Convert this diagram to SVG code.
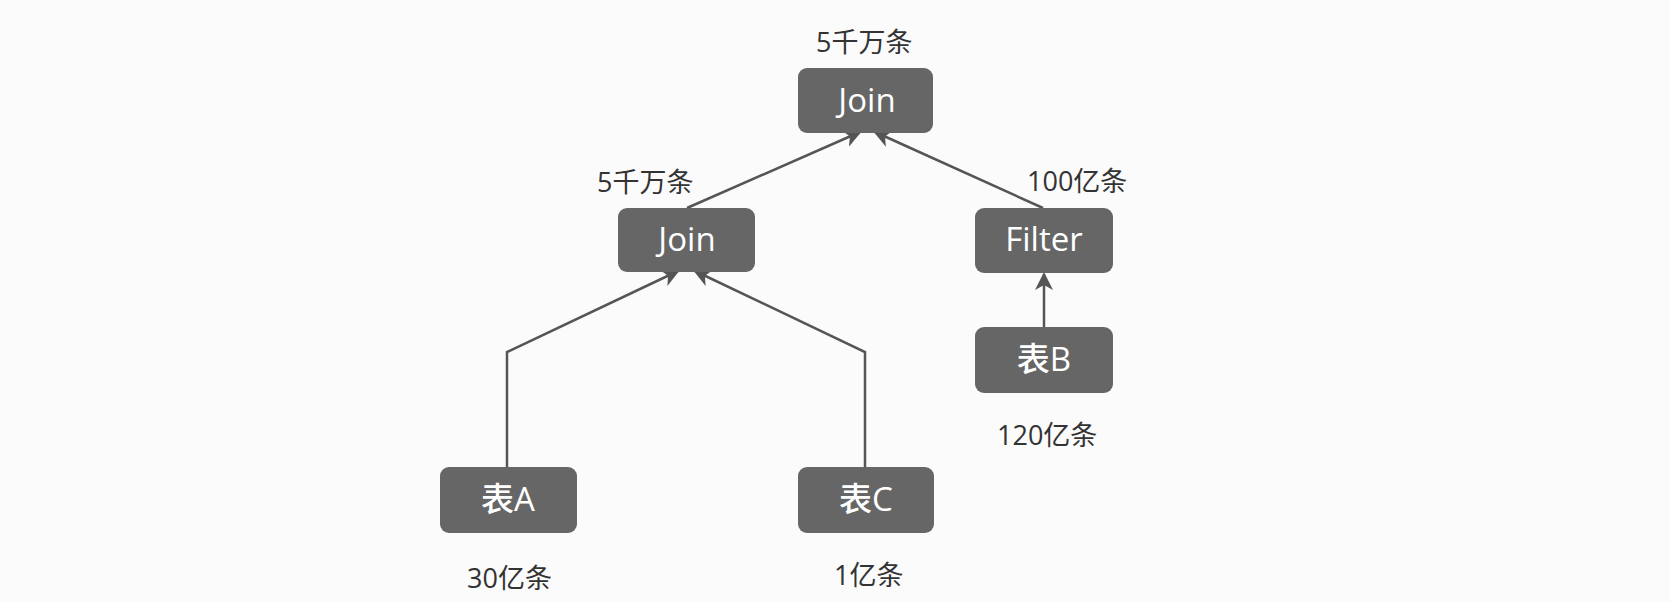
<svg xmlns="http://www.w3.org/2000/svg" width="1670" height="602" viewBox="0 0 1670 602">
<style>
.box{fill:#666666;}
.nl{fill:#ffffff;font-family:"Open Sans","Noto Sans CJK SC",sans-serif;font-size:33px;font-weight:500;text-anchor:middle;}
.cnt{fill:#333333;font-family:"Open Sans","Noto Sans CJK SC",sans-serif;font-size:27px;}
.edge{stroke:#555555;stroke-width:2.5;fill:none;}
</style>
<defs>
<marker id="arr" viewBox="0 0 18 18" refX="16" refY="9" markerWidth="18" markerHeight="18" markerUnits="userSpaceOnUse" orient="auto">
<path d="M0,0 L18,9 L0,18 L5,9 Z" fill="#555555"/>
</marker>
</defs>
<rect width="1670" height="602" fill="#fbfbfb"/>
<g id="connectors">
<path class="edge" d="M687,208 L860,132" marker-end="url(#arr)"/>
<path class="edge" d="M1043,208 L875,132" marker-end="url(#arr)"/>
<path class="edge" d="M507,467 L507,352 L678,271" marker-end="url(#arr)"/>
<path class="edge" d="M865,467 L865,352 L695,271" marker-end="url(#arr)"/>
<path class="edge" d="M1044,327 L1044,274" marker-end="url(#arr)"/>
</g>
<g id="join-top">
<rect class="box" x="798" y="68" width="135" height="65" rx="9"/>
<text class="nl" x="867" y="112">Join</text>
<text class="cnt" x="816" y="52">5千万条</text>
</g>
<g id="join-left">
<rect class="box" x="618" y="208" width="137" height="64" rx="9"/>
<text class="nl" x="687" y="251">Join</text>
<text class="cnt" x="597" y="192">5千万条</text>
</g>
<g id="filter">
<rect class="box" x="975" y="208" width="138" height="65" rx="9"/>
<text class="nl" x="1044" y="251">Filter</text>
<text class="cnt" x="1027" y="191">100亿条</text>
</g>
<g id="table-b">
<rect class="box" x="975" y="327" width="138" height="66" rx="9"/>
<text class="nl" x="1044" y="371">表B</text>
<text class="cnt" x="997" y="445">120亿条</text>
</g>
<g id="table-a">
<rect class="box" x="440" y="467" width="137" height="66" rx="9"/>
<text class="nl" x="508" y="511">表A</text>
<text class="cnt" x="467" y="588">30亿条</text>
</g>
<g id="table-c">
<rect class="box" x="798" y="467" width="136" height="66" rx="9"/>
<text class="nl" x="866" y="511">表C</text>
<text class="cnt" x="834" y="585">1亿条</text>
</g>
</svg>
